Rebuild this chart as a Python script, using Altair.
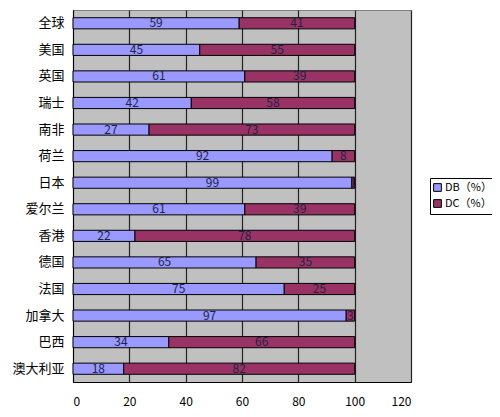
import altair as alt
import pandas as pd

countries = ["全球", "美国", "英国", "瑞士", "南非", "荷兰", "日本",
             "爱尔兰", "香港", "德国", "法国", "加拿大", "巴西", "澳大利亚"]
db = [59, 45, 61, 42, 27, 92, 99, 61, 22, 65, 75, 97, 34, 18]
dc = [41, 55, 39, 58, 73, 8, 1, 39, 78, 35, 25, 3, 66, 82]
series = ["DB（%）", "DC（%）"]
colors = ["#9999FF", "#993366"]

rows = []
for c, a, b in zip(countries, db, dc):
    rows.append({"country": c, "series": series[0], "order": 0, "value": a})
    rows.append({"country": c, "series": series[1], "order": 1, "value": b})
df = pd.DataFrame(rows)

font = "Noto Sans CJK SC"

base = alt.Chart(df).transform_stack(
    stack="value", groupby=["country"], as_=["x0", "x1"],
    sort=[alt.SortField("order")]
).transform_calculate(mid="(datum.x0 + datum.x1) / 2")

y = alt.Y("country:N", sort=countries, title=None,
          scale=alt.Scale(paddingInner=0.58, paddingOuter=0.29),
          axis=alt.Axis(labelFont=font, labelFontSize=13, labelColor="#000",
                        labelPadding=9, ticks=False, domainColor="#000",
                        grid=False))

bars = base.mark_bar(stroke="#000", strokeWidth=1).encode(
    x=alt.X("x0:Q", title=None,
            scale=alt.Scale(domain=[0, 120], nice=False),
            axis=alt.Axis(values=[0, 20, 40, 60, 80, 100, 120], ticks=False,
                          labelFont=font, labelFontSize=12, labelColor="#000",
                          labelPadding=14, domainColor="#000",
                          gridColor="#222", gridWidth=1.2)),
    x2="x1:Q",
    y=y,
    color=alt.Color("series:N", scale=alt.Scale(domain=series, range=colors),
                    title=None,
                    legend=alt.Legend(orient="none", legendX=357, legendY=168,
                                      symbolType="square", symbolSize=60,
                                      symbolStrokeColor="#000",
                                      symbolStrokeWidth=1, symbolOffset=-2,
                                      labelOffset=2,
                                      labelFont=font, labelFontSize=11,
                                      labelColor="#000",
                                      strokeColor="#000", padding=4,
                                      rowPadding=3, fillColor="#fff")),
    order=alt.Order("order:Q"),
)

labels = base.mark_text(font=font, fontSize=12, color="#222244").encode(
    x="mid:Q",
    y=alt.Y("country:N", sort=countries),
    text="value:Q",
)

chart = (bars + labels).properties(
    width=338, height=372,
    autosize=alt.AutoSizeParams(type="none"),
    padding={"left": 65, "top": 2, "right": 81, "bottom": 27},
).configure_view(fill="#C0C0C0", stroke="#808080", strokeWidth=1)

chart.save("out.html", embed_options={"renderer": "svg", "actions": False})
